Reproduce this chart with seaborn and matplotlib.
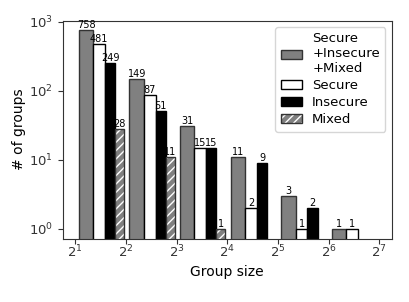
import numpy as np
import matplotlib
matplotlib.use("Agg")
import matplotlib.pyplot as plt
from matplotlib.patches import Patch
import seaborn as sns

# group sizes (histogram bins start at these values, bin = [g, 2g))
group_sizes = [2, 4, 8, 16, 32, 64]
total = [758, 149, 31, 11, 3, 1]
secure = [481, 87, 15, 2, 1, 1]
insecure = [249, 51, 15, 9, 2, 0]
mixed = [28, 11, 1, 0, 0, 0]

series_names = ["Secure\n+Insecure\n+Mixed", "Secure", "Insecure", "Mixed"]
series_values = [total, secure, insecure, mixed]

sns.set_style("ticks", rc={"axes.edgecolor": "0.2", "text.color": "black",
                           "xtick.color": "0.2", "ytick.color": "0.2",
                           "axes.labelcolor": "black"})
plt.rcParams['font.family'] = ['DejaVu Sans']

fig = plt.figure(figsize=(4.09, 3.02), dpi=100)
ax = fig.add_axes([0.153, 0.210, 0.805, 0.722])

faces = ["#808080", "white", "black", "#808080"]
edges = ["#333333", "black", "black", "#333333"]
rw = 0.9
n = len(series_values)

for i, (vals, fc, ec) in enumerate(zip(series_values, faces, edges)):
    g = np.array(group_sizes, dtype=float)
    v = np.array(vals, dtype=float)
    keep = v > 0
    w = g * rw / n
    left = g + g * (1 - rw) / 2 + i * w
    if i == 3:
        ax.bar(left[keep], v[keep], width=w[keep], align="edge",
               facecolor=fc, edgecolor="white", hatch="////", linewidth=0)
        bars = ax.bar(left[keep], v[keep], width=w[keep], align="edge",
                      fill=False, edgecolor=ec, linewidth=1)
    else:
        bars = ax.bar(left[keep], v[keep], width=w[keep], align="edge",
                      facecolor=fc, edgecolor=ec, linewidth=1)
    ax.bar_label(bars, labels=[str(int(x)) for x in v[keep]], fontsize=7, padding=0)

ax.set_xscale("log", base=2)
ax.set_yscale("log")
ax.set_xlim(2 ** 0.75, 2 ** 7.25)
ax.set_ylim(0.716, 1045)
ax.set_xticks([2 ** k for k in range(1, 8)])
ax.minorticks_off()
ax.set_xlabel("Group size", fontsize=10, labelpad=3)
ax.set_ylabel("# of groups", fontsize=10, labelpad=2)
ax.tick_params(labelsize=9.5)
ax.tick_params(axis="x", pad=0.5)

handles = [
    Patch(facecolor=faces[0], edgecolor=edges[0]),
    Patch(facecolor=faces[1], edgecolor=edges[1]),
    Patch(facecolor=faces[2], edgecolor=edges[2]),
    (Patch(facecolor=faces[3], edgecolor="white", hatch="////", linewidth=0),
     Patch(fill=False, edgecolor=edges[3])),
]
ax.legend(handles, series_names, loc="upper right", fontsize=9.5,
          handlelength=1.6, labelspacing=0.3, handletextpad=0.8)

fig.savefig("out.png", dpi=100)
